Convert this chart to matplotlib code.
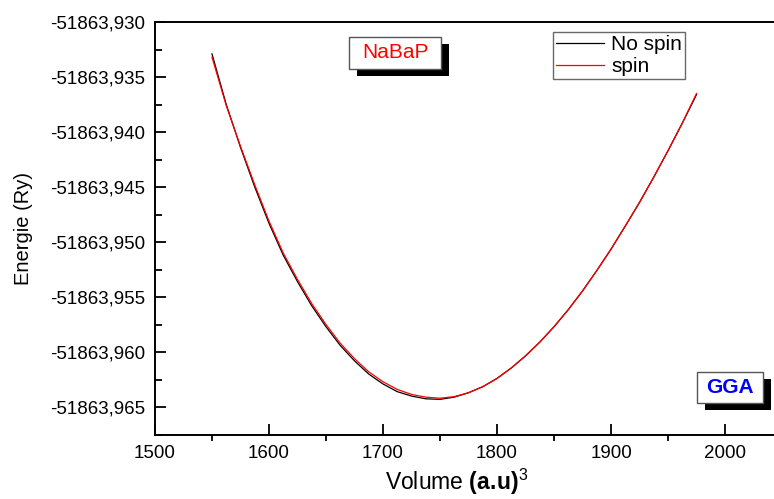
import matplotlib
matplotlib.use("Agg")
import matplotlib.pyplot as plt
from matplotlib.ticker import MultipleLocator, AutoMinorLocator, FuncFormatter
from matplotlib.patches import Rectangle

plt.rcParams['font.family'] = ['Liberation Sans', 'DejaVu Sans']
plt.rcParams['mathtext.fontset'] = 'custom'
plt.rcParams['mathtext.rm'] = 'Liberation Sans'
plt.rcParams['mathtext.bf'] = 'Liberation Sans:bold'

# volume (a.u)^3 and total energy (Ry)
volume = [1550, 1562.5, 1575, 1587.5, 1600, 1612.5, 1625, 1637.5, 1650,
          1662.5, 1675, 1687.5, 1700, 1712.5, 1725, 1737.5, 1750, 1762.5,
          1775, 1787.5, 1800, 1812.5, 1825, 1837.5, 1850, 1862.5, 1875,
          1887.5, 1900, 1912.5, 1925, 1937.5, 1950, 1962.5, 1975]
e_nospin = [-51863.9329, -51863.9375, -51863.9414, -51863.9450, -51863.9483,
            -51863.9512, -51863.9536, -51863.9558, -51863.9577, -51863.9594,
            -51863.9608, -51863.9620, -51863.9629, -51863.9636, -51863.9640,
            -51863.96425, -51863.9643, -51863.9641, -51863.9637, -51863.96315,
            -51863.9624, -51863.96145, -51863.96035, -51863.9591, -51863.9577,
            -51863.95615, -51863.95445, -51863.9526, -51863.95065, -51863.94855,
            -51863.9464, -51863.9441, -51863.9417, -51863.9392, -51863.9366]
e_spin = [-51863.9332, -51863.9376, -51863.9413, -51863.9448, -51863.9481,
          -51863.9510, -51863.9534, -51863.9556, -51863.9575, -51863.9592,
          -51863.9606, -51863.9618, -51863.9627, -51863.9634, -51863.96385,
          -51863.9641, -51863.9642, -51863.96405, -51863.9637, -51863.96315,
          -51863.9624, -51863.96145, -51863.96035, -51863.9591, -51863.9577,
          -51863.95615, -51863.95445, -51863.9526, -51863.95065, -51863.94855,
          -51863.9464, -51863.9441, -51863.9417, -51863.9392, -51863.9365]

W, H = 774, 499
fig = plt.figure(figsize=(W / 100, H / 100), dpi=100)
ax = fig.add_axes([155 / W, 1 - 435 / H, (W - 155) / W, (435 - 22) / H])

ax.plot(volume, e_nospin, color='black', lw=0.9, label='No spin')
ax.plot(volume, e_spin, color='red', lw=0.9, label='spin')

ax.set_xlim(1500, 1500 + (W - 155) / 1.14)
ax.set_ylim(-51863.96754, -51863.930)

ax.xaxis.set_major_locator(MultipleLocator(100))
ax.xaxis.set_minor_locator(AutoMinorLocator(2))
ax.yaxis.set_major_locator(MultipleLocator(0.005))
ax.yaxis.set_minor_locator(AutoMinorLocator(2))
ax.yaxis.set_major_formatter(FuncFormatter(lambda v, p: f"{v:.3f}".replace('.', ',')))

ax.tick_params(axis='both', which='major', direction='in', length=8, width=1.3,
               labelsize=13.5, pad=7)
ax.tick_params(axis='x', which='minor', direction='out', length=4, width=1.3)
ax.tick_params(axis='y', which='minor', direction='in', length=5, width=1.3)

for s in ['left', 'bottom', 'top']:
    ax.spines[s].set_linewidth(1.4)
ax.spines['right'].set_visible(False)

ax.set_ylabel('Energie (Ry)', fontsize=14.5)
ax.yaxis.set_label_coords(-0.197, 0.5)
ax.set_xlabel(r'Volume $\mathbf{(a.\!u)}^3$', fontsize=16.5, ha='left')
ax.xaxis.set_label_coords((385 - 155) / (W - 155), -0.0775)

leg = ax.legend(loc='upper left', bbox_to_anchor=(553 / W, 1 - 32 / H),
                bbox_transform=fig.transFigure, fontsize=15, frameon=True,
                fancybox=False, borderaxespad=0, borderpad=0.15,
                labelspacing=0.15, handlelength=2.3, handletextpad=0.35)
leg.get_frame().set_edgecolor('#444444')
leg.get_frame().set_linewidth(1.0)


def label_box(x0, y0, x1, y1, text, color, weight):
    # shadowed box, pixel coordinates measured from the top-left corner
    sx, sy = 8, 7
    fig.patches.append(Rectangle(((x0 + sx) / W, 1 - (y1 + sy) / H),
                                 (x1 - x0) / W, (y1 - y0) / H,
                                 transform=fig.transFigure, facecolor='black',
                                 edgecolor='none', zorder=5))
    fig.patches.append(Rectangle((x0 / W, 1 - y1 / H), (x1 - x0) / W, (y1 - y0) / H,
                                 transform=fig.transFigure, facecolor='white',
                                 edgecolor='#555555', lw=1.0, zorder=6))
    fig.text((x0 + x1) / 2 / W, 1 - (y0 + y1) / 2 / H, text, color=color,
             fontsize=15, fontweight=weight, ha='center', va='center', zorder=7)


label_box(349, 37, 441, 69, 'NaBaP', 'red', 'normal')
label_box(697, 372, 763, 403, 'GGA', 'blue', 'bold')

fig.savefig('out.png', dpi=100)
